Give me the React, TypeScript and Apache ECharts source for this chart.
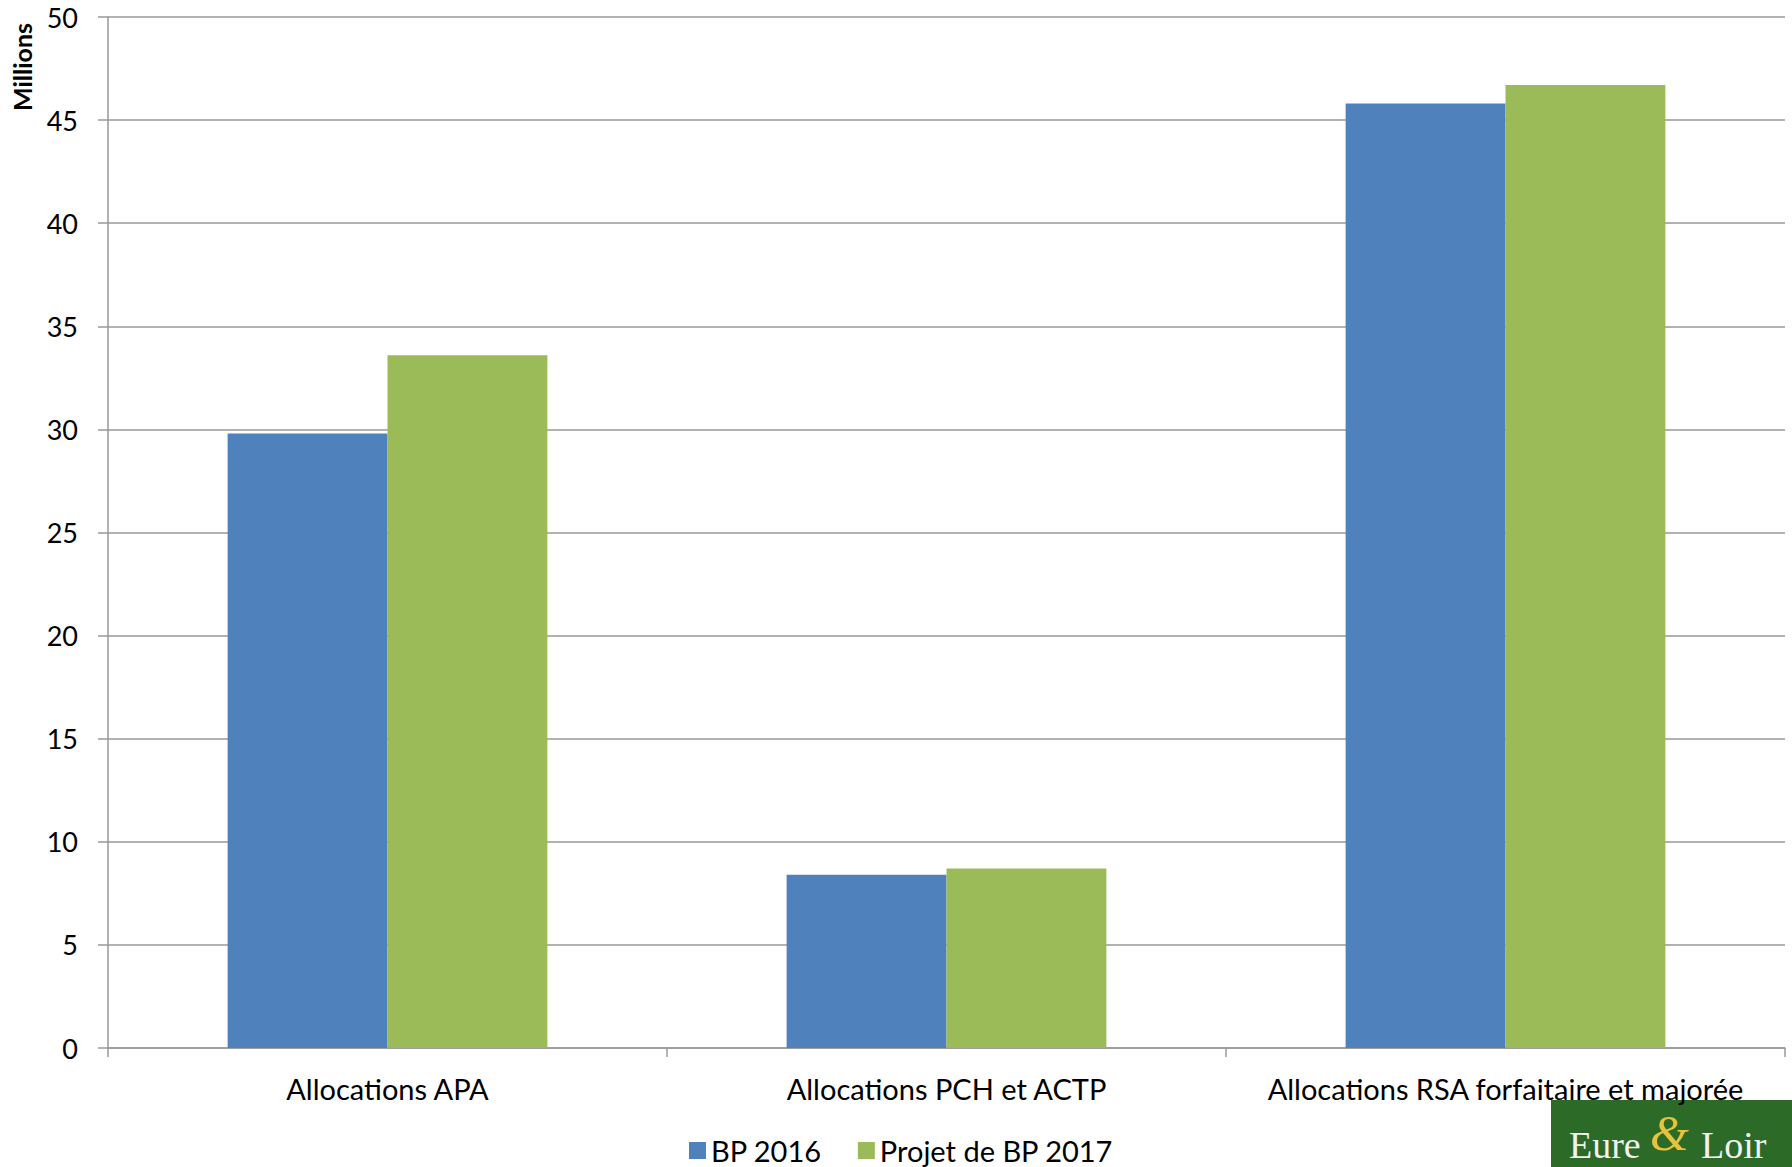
import React, { useEffect, useRef } from "react";
import * as echarts from "echarts";

const categories = ["Allocations APA", "Allocations PCH et ACTP", "Allocations RSA forfaitaire et majorée"];
const bp2016 = [29.8, 8.4, 45.8];
const bp2017 = [33.6, 8.7, 46.7];
const seriesNames = ["BP 2016", "Projet de BP 2017"];
const yTicks = { min: 0, max: 50, interval: 5 };

const FONT = "Lato";

export default function App() {
  const ref = useRef<HTMLDivElement>(null);
  useEffect(() => {
    const chart = echarts.init(ref.current!, null, { renderer: "svg" });
    chart.setOption({
      animation: false,
      backgroundColor: "#ffffff",
      textStyle: { fontFamily: FONT },
      grid: { left: 108, right: 7, top: 17, bottom: 119, containLabel: false },
      legend: {
        left: 684,
        top: 1131,
        itemWidth: 17,
        itemHeight: 17,
        itemGap: 36,
        icon: "rect",
        textStyle: { fontSize: 29, color: "#000", fontFamily: FONT },
        data: seriesNames,
      },
      xAxis: {
        type: "category",
        data: categories,
        axisLine: { lineStyle: { color: "#999999", width: 1.5 } },
        axisTick: { show: true, interval: 0, length: 9, lineStyle: { color: "#999999", width: 1.5 } },
        axisLabel: { interval: 0, hideOverlap: false, fontSize: 29, color: "#000", margin: 26, fontFamily: FONT },
      },
      yAxis: {
        type: "value",
        min: yTicks.min,
        max: yTicks.max,
        interval: yTicks.interval,
        axisLine: { show: true, lineStyle: { color: "#999999", width: 1.5 } },
        axisTick: { show: true, length: 10, inside: false, lineStyle: { color: "#999999", width: 1.5 } },
        splitLine: { lineStyle: { color: "#999999", width: 1.5 } },
        axisLabel: { fontSize: 27, color: "#000", margin: 30, fontFamily: FONT },
      },
      series: [
        {
          name: seriesNames[0],
          type: "bar",
          data: bp2016,
          itemStyle: { color: "#4F81BD" },
          barGap: "0%",
          barCategoryGap: "42.8%",
        },
        {
          name: seriesNames[1],
          type: "bar",
          data: bp2017,
          itemStyle: { color: "#9BBB59" },
          barGap: "0%",
          barCategoryGap: "42.8%",
        },
      ],
      graphic: [
        {
          type: "text",
          x: 22,
          y: 67,
          rotation: Math.PI / 2,
          style: {
            text: "Millions",
            fontFamily: FONT,
            fontWeight: "bold",
            fontSize: 25,
            fill: "#000",
            align: "center",
            verticalAlign: "middle",
          },
        },
        {
          type: "group",
          left: 1551,
          top: 1100,
          children: [
            { type: "rect", shape: { x: 0, y: 0, width: 241, height: 67 }, style: { fill: "#2B6B27" } },
            {
              type: "text",
              x: 18,
              y: 64,
              style: { text: "Eure", fontFamily: "Liberation Serif", fontSize: 38, fill: "#f2f2f2", verticalAlign: "bottom" },
            },
            {
              type: "text",
              x: 99,
              y: 8,
              style: { text: "&", fontFamily: "Liberation Serif", fontSize: 50, fill: "#e8c23a", verticalAlign: "top", fontStyle: "italic" },
            },
            {
              type: "text",
              x: 150,
              y: 64,
              style: { text: "Loir", fontFamily: "Liberation Serif", fontSize: 38, fill: "#f2f2f2", verticalAlign: "bottom" },
            },
          ],
        },
      ],
    });
    return () => chart.dispose();
  }, []);
  return <div ref={ref} style={{ position: "absolute", left: 0, top: 0, width: 1792, height: 1167 }} />;
}
